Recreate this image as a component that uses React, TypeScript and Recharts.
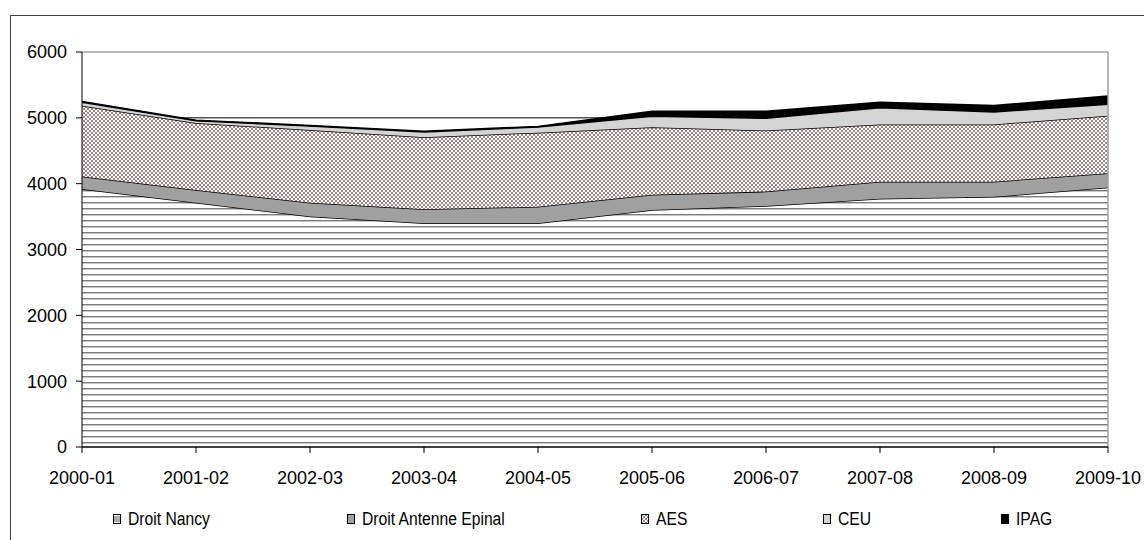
import React from 'react';
import { AreaChart, Area, XAxis, YAxis, CartesianGrid, ReferenceLine, Legend } from 'recharts';

const categories = ['2000-01', '2001-02', '2002-03', '2003-04', '2004-05', '2005-06', '2006-07', '2007-08', '2008-09', '2009-10'];
const droitNancy = [3920, 3710, 3500, 3400, 3400, 3600, 3660, 3770, 3800, 3940];
const droitEpinal = [190, 195, 210, 210, 250, 230, 220, 260, 230, 220];
const aes = [1075, 1015, 1105, 1095, 1125, 1027, 928, 870, 870, 870];
const ceu = [50, 35, 60, 80, 85, 167, 184, 255, 190, 175];
const ipag = [15, 10, 10, 10, 10, 76, 108, 81, 97, 125];
const yTicks = [0, 1000, 2000, 3000, 4000, 5000, 6000];
const gridValues = [1000, 2000, 3000, 4000, 5000];

const data = categories.map((c, i) => ({
  year: c,
  nancy: droitNancy[i],
  epinal: droitEpinal[i],
  aes: aes[i],
  ceu: ceu[i],
  ipag: ipag[i],
}));

const series = [
  { key: 'nancy', name: 'Droit Nancy', fill: 'url(#pNancy)' },
  { key: 'epinal', name: 'Droit Antenne Epinal', fill: '#a0a0a0' },
  { key: 'aes', name: 'AES', fill: 'url(#pAES)' },
  { key: 'ceu', name: 'CEU', fill: '#d4d4d4' },
  { key: 'ipag', name: 'IPAG', fill: '#000000' },
];

const FONT = '"Liberation Sans", Arial, sans-serif';
const legendLeft = [102, 336, 630, 812, 990];

function Marker({ k }: { k: string }) {
  if (k === 'nancy') {
    return (
      <svg width={8} height={10} style={{ display: 'block' }}>
        <rect x={0.5} y={0.5} width={7} height={9} fill="#fff" stroke="#000" />
        <line x1={1} x2={7} y1={3} y2={3} stroke="#555" />
        <line x1={1} x2={7} y1={5} y2={5} stroke="#555" />
        <line x1={1} x2={7} y1={7} y2={7} stroke="#555" />
      </svg>
    );
  }
  const s = series.find((x) => x.key === k)!;
  return (
    <svg width={8} height={10} style={{ display: 'block' }}>
      <rect x={0.5} y={0.5} width={7} height={9} fill={s.fill} stroke="#000" />
    </svg>
  );
}

function LegendContent() {
  return (
    <div style={{ position: 'relative', width: 1133, height: 20, fontFamily: FONT }}>
      {series.map((s, i) => (
        <div
          key={s.key}
          style={{ position: 'absolute', left: legendLeft[i], top: 0, height: 20, display: 'flex', alignItems: 'center' }}
        >
          <Marker k={s.key} />
          <span
            style={{
              marginLeft: 7,
              fontSize: 18,
              color: '#000',
              whiteSpace: 'nowrap',
              display: 'inline-block',
              transform: 'scaleX(0.87)',
              transformOrigin: 'left center',
            }}
          >
            {s.name}
          </span>
        </div>
      ))}
    </div>
  );
}

export default function App() {
  return (
    <div
      style={{
        position: 'absolute',
        left: 10,
        top: 15,
        width: 1133,
        height: 524,
        borderTop: '1px solid #404040',
        borderLeft: '1px solid #404040',
        background: '#fff',
        fontFamily: FONT,
      }}
    >
      <AreaChart
        width={1133}
        height={524}
        data={data}
        margin={{ top: 36, right: 36, bottom: 43, left: 11 }}
        style={{ fontFamily: FONT }}
      >
        <defs>
          <pattern id="pNancy" width={6} height={6} patternUnits="userSpaceOnUse">
            <rect width={6} height={6} fill="#fff" />
            <rect x={0} y={0} width={6} height={1} fill="#7c7c7c" />
            <rect x={0} y={1} width={6} height={1} fill="#c6c6c6" />
          </pattern>
          <pattern id="pAES" width={4} height={4} patternUnits="userSpaceOnUse">
            <rect width={4} height={4} fill="#fff" />
            <rect x={0} y={0} width={2} height={2} fill="#9e8484" />
            <rect x={2} y={2} width={2} height={2} fill="#9e8484" />
          </pattern>
        </defs>
        <CartesianGrid vertical={false} horizontalValues={gridValues} stroke="#000" strokeWidth={1} />
        <XAxis
          dataKey="year"
          interval={0}
          height={50}
          tickSize={6}
          tickMargin={18}
          axisLine={{ stroke: '#000', strokeWidth: 1.5 }}
          tickLine={{ stroke: '#000' }}
          tick={{ fontSize: 18, fill: '#000', fontFamily: FONT }}
        />
        <YAxis
          domain={[0, 6000]}
          ticks={yTicks}
          width={60}
          tickSize={6}
          tickMargin={9}
          axisLine={{ stroke: '#000' }}
          tickLine={{ stroke: '#000' }}
          tick={{ fontSize: 18, fill: '#000', fontFamily: FONT }}
          interval={0}
        />
        {series.map((s) => (
          <Area
            key={s.key}
            type="linear"
            dataKey={s.key}
            name={s.name}
            stackId="1"
            stroke="#000"
            strokeWidth={1.5}
            fill={s.fill}
            fillOpacity={1}
            isAnimationActive={false}
            dot={false}
            activeDot={false}
          />
        ))}
        <ReferenceLine y={6000} stroke="#a0a0a0" strokeWidth={1.5} />
        <ReferenceLine x="2009-10" stroke="#a0a0a0" strokeWidth={1.5} />
        <Legend
          layout="horizontal"
          verticalAlign="middle"
          align="center"
          wrapperStyle={{ top: 493, left: 0, width: 1133 }}
          content={<LegendContent />}
        />
      </AreaChart>
    </div>
  );
}
